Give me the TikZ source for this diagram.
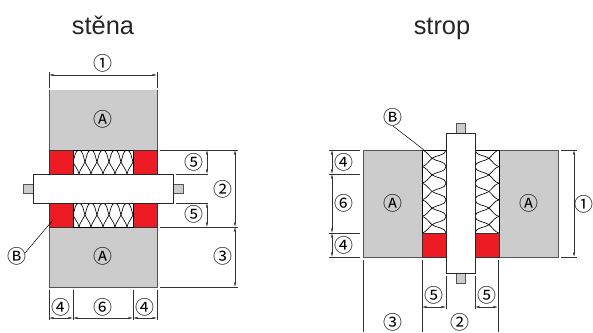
\documentclass[tikz,border=0pt]{standalone}
\usepackage{fontspec}
\setmainfont{Liberation Sans}
\newfontfamily\circfont{Noto Sans CJK SC}
\usetikzlibrary{arrows.meta}
\definecolor{wallgray}{HTML}{CCCCCC}
\definecolor{firered}{HTML}{ED1C24}
\definecolor{edgegray}{HTML}{555555}
\tikzset{
  wall/.style={fill=wallgray,draw=edgegray,line width=0.7pt},
  seal/.style={fill=firered,draw=black!80,line width=0.7pt},
  wool/.style={fill=white,draw=black,line width=0.7pt},
  woolline/.style={draw=black,line width=0.65pt},
  pipe/.style={fill=white,draw=black!85,line width=0.7pt},
  stub/.style={fill=wallgray,draw=edgegray,line width=0.6pt},
  extline/.style={draw=black!80,line width=0.45pt},
  dimline/.style={draw=black!80,line width=0.45pt,{Latex[length=4.5pt,width=2.4pt]}-{Latex[length=4.5pt,width=2.4pt]}},
  lbl/.style={font=\circfont\fontsize{19}{19}\selectfont,inner sep=0pt,text=black,yshift=-0.5bp},
  ttl/.style={font=\fontsize{25.5}{25.5}\selectfont,inner sep=0pt,text=black!85,anchor=base},
  leader/.style={draw=black,line width=0.5pt}
}
% one crossing of the wool pattern at u=#1, crossing depth v=#2, slant of the crossing #3
\newcommand{\woolx}[3]{%
  \draw[woolline] (#1-6,0) .. controls (#1-2,0) and (#1-#3,#2-3.5) .. (#1,#2)
     .. controls (#1+#3,#2+3.5) and (#1+5.5,20) .. (#1+6,24);
  \draw[woolline] (#1+6,0) .. controls (#1+2,0) and (#1+#3,#2-3.5) .. (#1,#2)
     .. controls (#1-#3,#2+3.5) and (#1-5.5,20) .. (#1-6,24);
}
% horizontal band with its humps on top
\newcommand{\hwool}[2]{%
  \begin{scope}
    \clip (#1,#2) rectangle ++(60,24);
    \begin{scope}[shift={(#1,#2)},x={(1bp,0bp)},y={(0bp,-1bp)}]
      \foreach \c in {0,12,...,60}{\woolx{\c}{12}{1.4}}
    \end{scope}
  \end{scope}
}
% vertical band: #1 x of the hump edge, #2 top y, #3 direction of depth (1 to the right, -1 to the left)
\newcommand{\vwool}[3]{%
  \begin{scope}[shift={(#1,#2)},x={(0bp,-1.383bp)},y={(#3*1bp,0bp)}]
      \foreach \c in {6,18,...,54}{\woolx{\c}{14}{2.2}}
  \end{scope}
}
\begin{document}
\begin{tikzpicture}[x=1bp,y=-1bp]
\useasboundingbox (0,0) rectangle (593,332);
% ---- titles
\node[ttl] (t1) at (103,34) {stěna};
\node[ttl] (t2) at (442,34) {strop};
% ---- left figure: wall
\draw[wall] (49,90) rectangle (157,150);
\draw[wall] (49,227) rectangle (157,287);
\fill[wallgray] (50,89.6) rectangle (156.5,91);
\draw[seal] (49,150) rectangle (73,174);
\draw[seal] (133,150) rectangle (157,174);
\draw[seal] (49,203) rectangle (73,227);
\draw[seal] (133,203) rectangle (157,227);
\fill[white] (73,150) rectangle (133,174);
\fill[white] (73,203) rectangle (133,227);
\hwool{73}{150}
\hwool{73}{203}
\draw[wool,fill=none] (73,150) rectangle (133,174);
\draw[wool,fill=none] (73,203) rectangle (133,227);
\draw[stub] (23,184) rectangle (33,193);
\draw[stub] (173,184) rectangle (183,193);
\draw[pipe] (33,174) rectangle (173,203);
% left figure labels
\node[lbl] (a1) at (103,119) {Ⓐ};
\node[lbl] (a2) at (103,256) {Ⓐ};
\node[lbl] (b1) at (17,256) {Ⓑ};
\coordinate (b1s) at (25,253);
\coordinate (b1t) at (53,220);
\draw[leader] (b1s) -- (b1t);
% left figure dims
\draw[extline] (49,72) -- (49,88);
\draw[extline] (157,72) -- (157,88);
\draw[dimline] (49,75) -- (157,75);
\node[lbl] (n1) at (103,63) {①};
\draw[extline] (160,150) -- (238,150);
\draw[extline] (176,174) -- (208,174);
\draw[extline] (176,203) -- (208,203);
\draw[extline] (160,227) -- (238,227);
\draw[extline] (160,287) -- (238,287);
\draw[dimline] (207,150) -- (207,174);
\draw[dimline] (207,203) -- (207,227);
\draw[dimline] (235,150) -- (235,227);
\draw[dimline] (235,227) -- (235,287);
\node[lbl] (n5a) at (194,162) {⑤};
\node[lbl] (n5b) at (194,214) {⑤};
\node[lbl] (n2a) at (223,189) {②};
\node[lbl] (n3a) at (223,256) {③};
\foreach \x in {49,73,133,157} \draw[extline] (\x,290) -- (\x,320);
\draw[dimline] (49,318) -- (73,318);
\draw[dimline] (73,318) -- (133,318);
\draw[dimline] (133,318) -- (157,318);
\node[lbl] (n4a) at (61,307) {④};
\node[lbl] (n6a) at (103,307) {⑥};
\node[lbl] (n4b) at (145,307) {④};
% ---- right figure: ceiling
\draw[wall] (363,150) rectangle (422,257);
\draw[wall] (499,150) rectangle (558,257);
\fill[white] (422,150) rectangle (446,233);
\fill[white] (475,150) rectangle (499,233);
\begin{scope}
\clip (422,150) rectangle (446,233);
\vwool{446}{150}{-1}
\end{scope}
\begin{scope}
\clip (475,150) rectangle (499,233);
\vwool{475}{150}{1}
\end{scope}
\draw[wool,fill=none] (422,150) rectangle (446,233);
\draw[wool,fill=none] (475,150) rectangle (499,233);
\draw[seal] (422,233) rectangle (446,257);
\draw[seal] (475,233) rectangle (499,257);
\draw[stub] (456,123) rectangle (465,133);
\draw[stub] (456,273) rectangle (465,283);
\draw[pipe] (446,133) rectangle (475,273);
\node[lbl] (a3) at (393,203) {Ⓐ};
\node[lbl] (a4) at (529,203) {Ⓐ};
\node[lbl] (b2) at (393,117) {Ⓑ};
\coordinate (b2s) at (393,126);
\coordinate (b2t) at (424,150);
\draw[leader] (b2s) -- (b2t);
% right figure dims
\draw[extline] (329,150) -- (360,150);
\draw[extline] (329,174) -- (360,174);
\draw[extline] (329,233) -- (360,233);
\draw[extline] (329,257) -- (360,257);
\draw[dimline] (332,150) -- (332,174);
\draw[dimline] (332,174) -- (332,233);
\draw[dimline] (332,233) -- (332,257);
\node[lbl] (n4c) at (344,162) {④};
\node[lbl] (n6b) at (344,203) {⑥};
\node[lbl] (n4d) at (344,245) {④};
\draw[extline] (561,150) -- (577,150);
\draw[extline] (561,257) -- (577,257);
\draw[dimline,line width=0.6pt] (574,150) -- (574,257);
\node[lbl] (n1b) at (584,204) {①};
\draw[extline] (363,260) -- (363,332);
\draw[extline] (422,260) -- (422,332);
\draw[extline] (498,260) -- (498,332);
\draw[extline] (446,276) -- (446,309);
\draw[extline] (475,276) -- (475,309);
\draw[dimline] (422,307) -- (446,307);
\draw[dimline] (475,307) -- (498,307);
\node[lbl] (n5c) at (434,295) {⑤};
\node[lbl] (n5d) at (487,295) {⑤};
\node[lbl] (n3b) at (393,322) {③};
\node[lbl] (n2b) at (460,322) {②};
\end{tikzpicture}
\end{document}
